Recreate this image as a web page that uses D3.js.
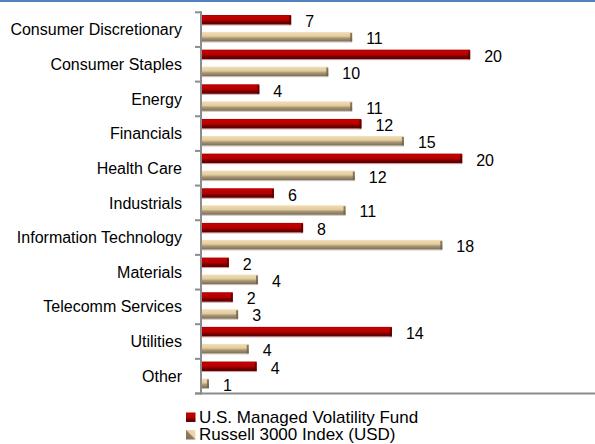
<!DOCTYPE html>
<html>
<head>
<meta charset="utf-8">
<script src="https://cdn.jsdelivr.net/npm/d3@7"></script>
<style>
    body { margin: 0; background: #fff; }
    svg { display: block; font-family: "Liberation Sans", Arial, sans-serif; }
</style>
</head>
<body>
<svg id="chart" width="595" height="444"></svg>
<script>
// data (bar lengths estimated, labels rounded)
const categories = ["Consumer Discretionary", "Consumer Staples", "Energy", "Financials",
    "Health Care", "Industrials", "Information Technology", "Materials",
    "Telecomm Services", "Utilities", "Other"];
const seriesNames = ["U.S. Managed Volatility Fund", "Russell 3000 Index (USD)"];
const fundValues = [6.8, 20.3, 4.4, 12.1, 19.7, 5.5, 7.7, 2.1, 2.4, 14.4, 4.2];
const indexValues = [11.4, 9.6, 11.4, 15.3, 11.6, 10.9, 18.2, 4.3, 2.8, 3.6, 0.6];

const svg = d3.select("#chart");
const W = 595, H = 444;
const plotLeft = 201, plotTop = 12.3, plotBottom = 393.5;
const fontSize = 16;

// top rule
svg.append("rect").attr("x", 0).attr("y", 0).attr("width", W).attr("height", 2)
    .attr("fill", "#4f81bd");

const defs = svg.append("defs");
let g = defs.append("linearGradient").attr("id", "redGrad")
    .attr("x1", 0).attr("y1", 0).attr("x2", 0).attr("y2", 1);
[["0%", "#a40000"], ["15%", "#c80000"], ["55%", "#b00000"], ["72%", "#760000"], ["100%", "#5a0000"]]
    .forEach(s => g.append("stop").attr("offset", s[0]).attr("stop-color", s[1]));
g = defs.append("linearGradient").attr("id", "tanGrad")
    .attr("x1", 0).attr("y1", 0).attr("x2", 0).attr("y2", 1);
[["0%", "#f2e0b8"], ["45%", "#e2cb9c"], ["65%", "#a89776"], ["100%", "#7c6c56"]]
    .forEach(s => g.append("stop").attr("offset", s[0]).attr("stop-color", s[1]));
g = defs.append("linearGradient").attr("id", "tanLeg")
    .attr("x1", 0).attr("y1", 1).attr("x2", 1).attr("y2", 0);
[["0%", "#7c6c56"], ["48%", "#8e7e64"], ["52%", "#e6d0a2"], ["100%", "#f2e0b8"]]
    .forEach(s => g.append("stop").attr("offset", s[0]).attr("stop-color", s[1]));

const x = d3.scaleLinear().domain([0, 30]).range([plotLeft, plotLeft + 13.26 * 30]);
const y = d3.scaleBand().domain(categories).range([plotTop, plotBottom]);
const ySub = d3.scaleBand().domain([0, 1]).range([0, y.bandwidth()])
    .paddingInner(0.44).paddingOuter(0.24).align(0.33);

const fills = ["url(#redGrad)", "url(#tanGrad)"];
const ends = ["#5a0000", "#6e604c"];
const shadows = ["#d4a4a4", "#c8c2b8"];

const rows = categories.map((c, i) => ({ cat: c, vals: [fundValues[i], indexValues[i]] }));

const grp = svg.selectAll("g.cat").data(rows).enter().append("g")
    .attr("class", "cat")
    .attr("transform", d => `translate(0,${y(d.cat)})`);

const bars = grp.selectAll("g.bar").data(d => d.vals.map((v, s) => ({ v, s }))).enter()
    .append("g").attr("class", "bar");

// soft shadow under each bar
bars.append("rect")
    .attr("x", plotLeft)
    .attr("y", d => ySub(d.s) + ySub.bandwidth())
    .attr("width", d => x(d.v) - plotLeft)
    .attr("height", 1)
    .attr("fill", d => shadows[d.s]);

bars.append("rect")
    .attr("x", plotLeft)
    .attr("y", d => ySub(d.s))
    .attr("width", d => x(d.v) - plotLeft)
    .attr("height", ySub.bandwidth())
    .attr("fill", d => fills[d.s]);

// darker end cap
bars.append("rect")
    .attr("x", d => Math.max(plotLeft, x(d.v) - 2))
    .attr("y", d => ySub(d.s) + 1)
    .attr("width", d => Math.min(2, x(d.v) - plotLeft))
    .attr("height", ySub.bandwidth() - 1)
    .attr("fill", d => ends[d.s])
    .attr("opacity", 0.8);

bars.append("text")
    .attr("x", d => x(d.v) + 14)
    .attr("y", d => ySub(d.s) + ySub.bandwidth() / 2 + 7.5)
    .attr("font-size", fontSize)
    .attr("fill", "#000")
    .text(d => d3.format(".0f")(d.v));

// axes
const yAxis = svg.append("g").attr("transform", `translate(${plotLeft},0)`)
    .call(d3.axisLeft(y).tickSize(0).tickPadding(19));
yAxis.select(".domain").remove();
yAxis.selectAll("text").attr("font-size", fontSize).attr("fill", "#000")
    .attr("font-family", "Liberation Sans, Arial, sans-serif").attr("dy", "0.35em");

const tickYs = categories.map(c => y(c)).concat([plotBottom]);
svg.selectAll("line.tk").data(tickYs).enter().append("line")
    .attr("x1", plotLeft - 6).attr("x2", plotLeft).attr("y1", d => d).attr("y2", d => d)
    .attr("stroke", "#8c8c8c").attr("stroke-width", 2);
svg.append("line").attr("x1", plotLeft).attr("x2", plotLeft).attr("y1", plotTop - 1).attr("y2", plotBottom + 1)
    .attr("stroke", "#8c8c8c").attr("stroke-width", 2);
svg.append("line").attr("x1", plotLeft - 6).attr("x2", W).attr("y1", plotBottom).attr("y2", plotBottom)
    .attr("stroke", "#8c8c8c").attr("stroke-width", 2);

// legend
const leg = svg.append("g").attr("transform", "translate(186,412.5)");
const legFills = ["url(#redGrad)", "url(#tanLeg)"];
seriesNames.forEach((n, i) => {
    leg.append("rect").attr("x", 0).attr("y", i * 17.5).attr("width", 9.5).attr("height", 9.5)
        .attr("fill", legFills[i]);
    leg.append("text").attr("x", 13).attr("y", i * 17.5 + 10.2).attr("font-size", 17)
        .attr("fill", "#000").text(n);
});
</script>
</body>
</html>
